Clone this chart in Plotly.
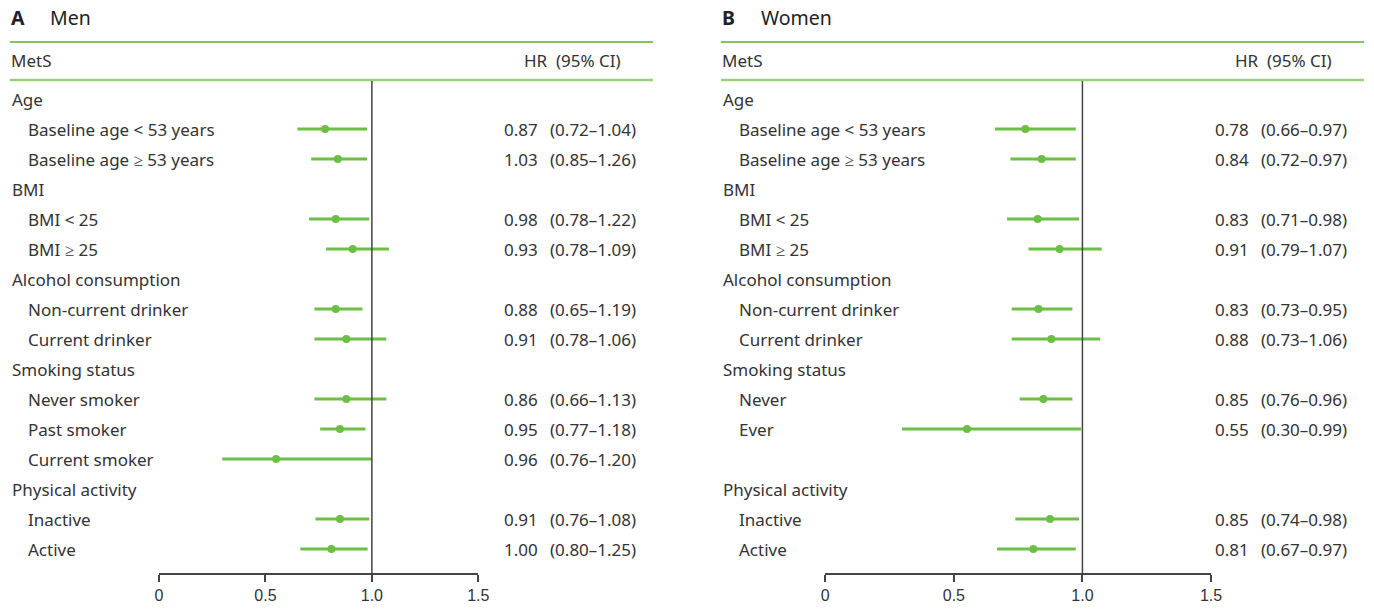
import plotly.graph_objects as go

# ---------------- data ----------------
row_labels_men = ["Age", "Baseline age < 53 years", "Baseline age ≥ 53 years",
                  "BMI", "BMI < 25", "BMI ≥ 25",
                  "Alcohol consumption", "Non-current drinker", "Current drinker",
                  "Smoking status", "Never smoker", "Past smoker", "Current smoker",
                  "Physical activity", "Inactive", "Active"]
row_indent_men = [0, 1, 1, 0, 1, 1, 0, 1, 1, 0, 1, 1, 1, 0, 1, 1]
hr_text_men = ["", "0.87", "1.03", "", "0.98", "0.93", "", "0.88", "0.91", "",
               "0.86", "0.95", "0.96", "", "0.91", "1.00"]
ci_text_men = ["", "(0.72–1.04)", "(0.85–1.26)", "", "(0.78–1.22)", "(0.78–1.09)", "",
               "(0.65–1.19)", "(0.78–1.06)", "", "(0.66–1.13)", "(0.77–1.18)",
               "(0.76–1.20)", "", "(0.76–1.08)", "(0.80–1.25)"]
# plotted marker positions as drawn in the figure
hr_men = [None, 0.78, 0.84, None, 0.83, 0.91, None, 0.83, 0.88, None, 0.88, 0.85, 0.55,
          None, 0.85, 0.81]
lo_men = [None, 0.65, 0.715, None, 0.705, 0.785, None, 0.73, 0.73, None, 0.73, 0.757, 0.297,
          None, 0.735, 0.664]
hi_men = [None, 0.978, 0.978, None, 0.988, 1.08, None, 0.956, 1.068, None, 1.068, 0.97, 1.0,
          None, 0.988, 0.98]

row_labels_women = ["Age", "Baseline age < 53 years", "Baseline age ≥ 53 years",
                    "BMI", "BMI < 25", "BMI ≥ 25",
                    "Alcohol consumption", "Non-current drinker", "Current drinker",
                    "Smoking status", "Never", "Ever", "",
                    "Physical activity", "Inactive", "Active"]
row_indent_women = [0, 1, 1, 0, 1, 1, 0, 1, 1, 0, 1, 1, 1, 0, 1, 1]
hr_text_women = ["", "0.78", "0.84", "", "0.83", "0.91", "", "0.83", "0.88", "",
                 "0.85", "0.55", "", "", "0.85", "0.81"]
ci_text_women = ["", "(0.66–0.97)", "(0.72–0.97)", "", "(0.71–0.98)", "(0.79–1.07)", "",
                 "(0.73–0.95)", "(0.73–1.06)", "", "(0.76–0.96)", "(0.30–0.99)", "", "",
                 "(0.74–0.98)", "(0.67–0.97)"]
hr_women = [None, 0.778, 0.841, None, 0.826, 0.911, None, 0.829, 0.879, None, 0.848, 0.551,
            None, None, 0.874, 0.809]
lo_women = [None, 0.66, 0.72, None, 0.707, 0.79, None, 0.725, 0.725, None, 0.756, 0.298,
            None, None, 0.739, 0.668]
hi_women = [None, 0.974, 0.974, None, 0.987, 1.075, None, 0.961, 1.069, None, 0.961, 0.995,
            None, None, 0.987, 0.974]

tick_vals = [0, 0.5, 1.0, 1.5]
tick_text = ["0", "0.5", "1.0", "1.5"]

# ---------------- layout constants ----------------
W, H = 1374, 609
GREEN = "#6cbf45"
TEXT = "#333333"
FONT = "Noto Sans"
FS = 17


def px(x):
    return x / W


def py(y):
    return 1 - y / H


fig = go.Figure()

panels = [
    dict(labels=row_labels_men, indent=row_indent_men, hrt=hr_text_men, cit=ci_text_men,
         hr=hr_men, lo=lo_men, hi=hi_men, xa="x", ya="y", left=10, right=653,
         hr_r=540, ci_l=548, letter="A", title="Men"),
    dict(labels=row_labels_women, indent=row_indent_women, hrt=hr_text_women, cit=ci_text_women,
         hr=hr_women, lo=lo_women, hi=hi_women, xa="x2", ya="y", left=721, right=1364,
         hr_r=1251, ci_l=1259, letter="B", title="Women"),
]

annotations = []
shapes = []
for p in panels:
    rows = list(range(len(p["labels"])))
    xs, ys, ep, em = [], [], [], []
    for i in rows:
        if p["hr"][i] is None:
            continue
        xs.append(p["hr"][i])
        ys.append(i)
        ep.append(p["hi"][i] - p["hr"][i])
        em.append(p["hr"][i] - p["lo"][i])
    fig.add_trace(go.Scatter(
        x=xs, y=ys, xaxis=p["xa"], yaxis=p["ya"], mode="markers",
        marker=dict(color=GREEN, size=8),
        error_x=dict(type="data", symmetric=False, array=ep, arrayminus=em,
                     width=0, thickness=3, color=GREEN),
        showlegend=False, hoverinfo="skip"))
    # row labels and HR text
    for i in rows:
        if p["labels"][i]:
            annotations.append(dict(
                x=px(p["left"] + (16 if p["indent"][i] else 0)), y=i, xref="paper", yref="y",
                text=p["labels"][i], showarrow=False, xanchor="left", yanchor="middle",
                font=dict(family=FONT, size=FS, color=TEXT)))
        if p["hrt"][i]:
            annotations.append(dict(
                x=px(p["hr_r"]), y=i, xref="paper", yref="y", text=p["hrt"][i],
                showarrow=False, xanchor="right", yanchor="middle",
                font=dict(family=FONT, size=FS, color=TEXT)))
            annotations.append(dict(
                x=px(p["ci_l"]), y=i, xref="paper", yref="y", text=p["cit"][i],
                showarrow=False, xanchor="left", yanchor="middle",
                font=dict(family=FONT, size=FS, color=TEXT)))
    # header
    annotations.append(dict(x=px(p["left"] - 1), y=py(18), xref="paper", yref="paper",
                            text="<b>" + p["letter"] + "</b>", showarrow=False,
                            xanchor="left", yanchor="middle",
                            font=dict(family=FONT, size=19.5, color="#222222")))
    annotations.append(dict(x=px(p["left"] + 38), y=py(18), xref="paper", yref="paper",
                            text=p["title"], showarrow=False, xanchor="left", yanchor="middle",
                            font=dict(family=FONT, size=19.5, color="#222222")))
    annotations.append(dict(x=px(p["left"] - 1), y=py(61), xref="paper", yref="paper",
                            text="MetS", showarrow=False, xanchor="left", yanchor="middle",
                            font=dict(family=FONT, size=FS, color=TEXT)))
    annotations.append(dict(x=px(p["right"] - 30), y=py(61), xref="paper", yref="paper",
                            text="HR  (95% CI)", showarrow=False, xanchor="right",
                            yanchor="middle", font=dict(family=FONT, size=FS, color=TEXT)))
    shapes.append(dict(type="line", xref="paper", yref="paper", x0=px(p["left"]),
                       x1=px(p["right"]), y0=py(42), y1=py(42),
                       line=dict(color="#7cc85a", width=2)))
    shapes.append(dict(type="line", xref="paper", yref="paper", x0=px(p["left"]),
                       x1=px(p["right"]), y0=py(80), y1=py(80),
                       line=dict(color="#98d07a", width=2.5)))
    shapes.append(dict(type="line", xref=p["xa"], yref="paper", x0=1.0, x1=1.0,
                       y0=py(574), y1=py(81), line=dict(color="#444444", width=1.5)))

axis_common = dict(range=[0, 1.5], tickvals=tick_vals, ticktext=tick_text,
                   showgrid=False, zeroline=False, showline=True, linecolor="#444444",
                   linewidth=1.5, ticks="outside", ticklen=7, tickwidth=1.5,
                   tickcolor="#444444", anchor="free", position=py(574), automargin=False,
                   tickfont=dict(family="Liberation Sans", size=16, color=TEXT))

fig.update_layout(
    width=W, height=H, margin=dict(l=0, r=0, t=0, b=0, autoexpand=False),
    paper_bgcolor="white", plot_bgcolor="white",
    xaxis=dict(domain=[px(159), px(478.3)], **axis_common),
    xaxis2=dict(domain=[px(825.3), px(1211)], **axis_common),
    yaxis=dict(domain=[0, 1], range=[(H - 99) / 30, -99 / 30], visible=False,
               showgrid=False, zeroline=False, automargin=False),
    annotations=annotations, shapes=shapes,
)

fig.write_html(
    "out.html",
    config={"displayModeBar": False},
    post_script="document.body.style.margin='0';document.body.style.overflow='hidden';",
)
